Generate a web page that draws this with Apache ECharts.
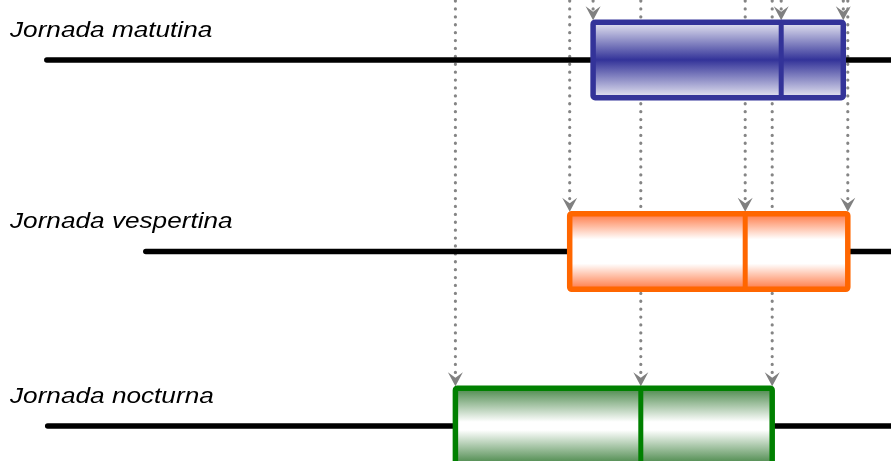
<!DOCTYPE html>
<html lang="es">
<head>
<meta charset="UTF-8">
<title>Jornadas</title>
<style>
    * {
        margin: 0;
        padding: 0;
    }

    html,
    body,
    #chart {
        width: 100%;
        height: 100%;
        overflow: hidden;
        background: #fff;
    }
</style>
</head>
<body>
<div id="chart"></div>
<script src="https://cdn.jsdelivr.net/npm/echarts@6/dist/echarts.min.js"></script>
<script>
    // datos (escala 0-99)
    let jornadas = ['Jornada matutina', 'Jornada vespertina', 'Jornada nocturna'];
    let minimos = [5.2, 16.2, 5.3];
    let cuartil1 = [65.9, 63.3, 50.6];
    let medianas = [86.8, 82.8, 71.2];
    let cuartil3 = [93.7, 94.2, 85.8];
    let maximos = [100, 100, 100]; // el bigote sale del cuadro

    // posicion de cada fila en el eje y (0-10, invertido)
    let filas = [1.3, 5.455, 9.24];
    let altoCaja = 1.64;
    let colores = ['#333399', '#ff6600', '#008000'];
    let rellenos = [
        [[0, '#f4f4f9'], [0.5, '#333399'], [1, '#f4f4f9']],
        [[0, '#ff6a30'], [0.35, '#ffffff'], [0.65, '#ffffff'], [1, '#ff6a30']],
        [[0, '#3c7f3c'], [0.45, '#ffffff'], [0.55, '#ffffff'], [1, '#3c7f3c']]
    ];

    let cajas = jornadas.map((j, i) => [i, minimos[i], cuartil1[i], medianas[i], cuartil3[i], maximos[i]]);

    // una flecha punteada por cada cuartil y mediana
    let flechas = [];
    jornadas.forEach((j, i) => {
        flechas.push([cuartil1[i], i], [medianas[i], i], [cuartil3[i], i]);
    });

    let chart = echarts.init(document.getElementById('chart'));

    function degradado(stops) {
        return new echarts.graphic.LinearGradient(0, 0, 0, 1, stops.map(s => ({
            offset: s[0],
            color: s[1]
        })));
    }

    let option = {
        animation: false,
        grid: {
            left: 0,
            right: 0,
            top: 0,
            bottom: 0
        },
        xAxis: {
            type: 'value',
            min: 0,
            max: 99,
            show: false
        },
        yAxis: {
            type: 'value',
            min: 0,
            max: 10,
            inverse: true,
            show: false
        },
        series: [{
            type: 'custom',
            name: 'flechas',
            z: 1,
            data: flechas,
            renderItem: function(params, api) {
                let fila = filas[api.value(1)];
                let p = api.coord([api.value(0), fila]);
                let h = api.size([0, altoCaja])[1];
                let x = p[0];
                let punta = p[1] - h / 2 - 2;
                let arriba = api.coord([0, 0])[1];
                return {
                    type: 'group',
                    children: [{
                        type: 'line',
                        shape: { x1: x, y1: arriba + 1, x2: x, y2: punta - 10 },
                        style: {
                            stroke: '#858585',
                            lineWidth: 3.2,
                            lineDash: [0.1, 7.8],
                            lineCap: 'round'
                        }
                    }, {
                        type: 'polygon',
                        shape: {
                            points: [[x - 7.5, punta - 14], [x, punta - 8.5], [x + 7.5, punta - 14], [x, punta]]
                        },
                        style: { fill: '#808080' }
                    }]
                };
            }
        }, {
            type: 'custom',
            name: 'cajas',
            z: 2,
            data: cajas,
            renderItem: function(params, api) {
                let i = api.value(0);
                let fila = filas[i];
                let y = api.coord([0, fila])[1];
                let h = api.size([0, altoCaja])[1];
                let xs = [1, 2, 3, 4, 5].map(k => api.coord([api.value(k), fila])[0]);
                return {
                    type: 'group',
                    children: [{
                        type: 'line',
                        shape: { x1: xs[0], y1: y, x2: xs[4], y2: y },
                        style: { stroke: '#000', lineWidth: 5.5, lineCap: 'round' }
                    }, {
                        type: 'rect',
                        shape: { x: xs[1], y: y - h / 2, width: xs[3] - xs[1], height: h, r: 2 },
                        style: {
                            fill: degradado(rellenos[i]),
                            stroke: colores[i],
                            lineWidth: 5.5
                        }
                    }, {
                        type: 'line',
                        shape: { x1: xs[2], y1: y - h / 2, x2: xs[2], y2: y + h / 2 },
                        style: { stroke: colores[i], lineWidth: 5 }
                    }]
                };
            }
        }]
    };

    chart.setOption(option);

    // etiquetas de cada jornada, sobre su linea
    chart.setOption({
        graphic: jornadas.map((t, i) => ({
            type: 'text',
            x: 10,
            y: chart.convertToPixel({ yAxisIndex: 0 }, filas[i]) - 29.5,
            scaleX: 1.19,
            scaleY: 1.03,
            style: {
                text: t,
                font: 'italic 22px "Liberation Sans", Arial, sans-serif',
                fill: '#000',
                verticalAlign: 'middle'
            }
        }))
    });
</script>
</body>
</html>
